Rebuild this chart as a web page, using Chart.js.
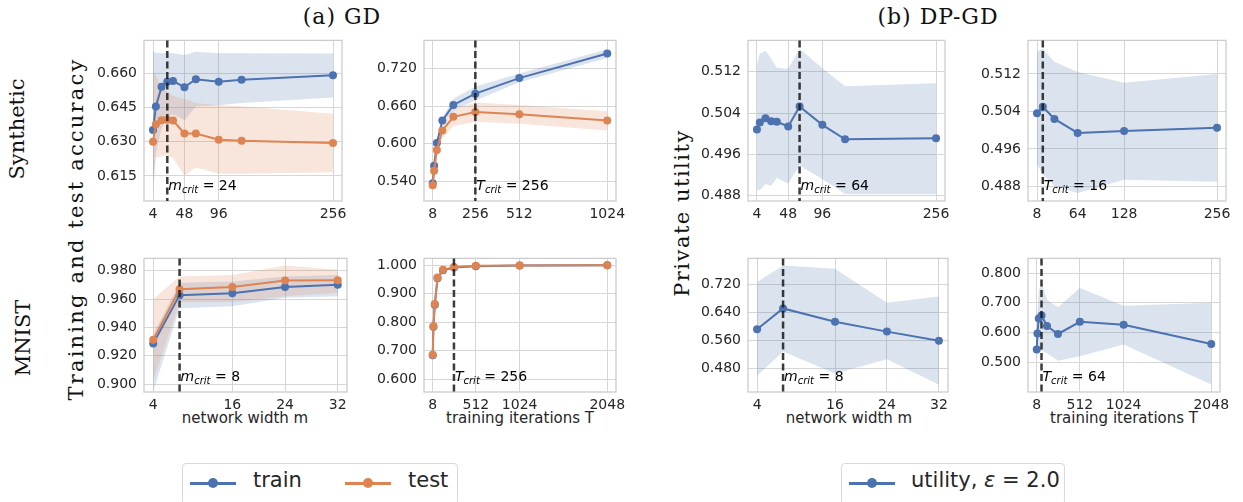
<!DOCTYPE html>
<html>
<head>
<meta charset="utf-8">
<script src="https://cdn.jsdelivr.net/npm/chart.js@4.4.1/dist/chart.umd.min.js"></script>
<style>
  html, body { margin: 0; padding: 0; background: #fff; }
  #fig { position: relative; width: 1243px; height: 502px; overflow: hidden; }
  #fig canvas { position: absolute; }
  .serif { position: absolute; font-family: "DejaVu Serif", serif; font-size: 21px; color: #111; white-space: nowrap; }
  .lbl { position: absolute; font-family: "DejaVu Sans", sans-serif; font-size: 15px; color: #262626; white-space: nowrap; transform: translate(-50%, -50%); }
  .rot { transform: translate(-50%, -50%) rotate(-90deg); }
  .ctr { transform: translate(-50%, -50%); }
  .legend { position: absolute; border: 1px solid #d9d9d9; border-radius: 4px; height: 40px; background: #fff; }
  .legend .ln { position: absolute; top: 18px; height: 2.5px; width: 46px; }
  .legend .dot { position: absolute; top: 14px; width: 10px; height: 10px; border-radius: 50%; }
  .legend .txt { position: absolute; top: 4px; font-family: "DejaVu Sans", sans-serif; font-size: 21px; color: #262626; white-space: nowrap; }
</style>
</head>
<body>
<div id="fig">
  <div class="serif ctr" style="left:342px; top:16px; font-size:22px; letter-spacing:1px;">(a) GD</div>
  <div class="serif ctr" style="left:938px; top:16px; font-size:22px; letter-spacing:1px;">(b) DP-GD</div>
  <div class="serif rot" style="left:17px; top:129px;">Synthetic</div>
  <div class="serif rot" style="left:23px; top:338px;">MNIST</div>
  <div class="serif rot" style="left:76px; top:229px; letter-spacing:2.2px;">Training and test accuracy</div>
  <div class="serif rot" style="left:682px; top:213px; letter-spacing:1.5px;">Private utility</div>
  <div class="lbl" style="left:245px; top:418px;">network width m</div>
  <div class="lbl" style="left:520px; top:418px;">training iterations T</div>
  <div class="lbl" style="left:849px; top:418px;">network width m</div>
  <div class="lbl" style="left:1124px; top:418px;">training iterations T</div>

  <div class="legend" style="left:182px; top:463px; width:274px;">
    <div class="ln" style="left:7px; background:#4C72B0;"></div>
    <div class="dot" style="left:25px; background:#4C72B0;"></div>
    <div class="txt" style="left:70px;">train</div>
    <div class="ln" style="left:162px; background:#DD8452;"></div>
    <div class="dot" style="left:180px; background:#DD8452;"></div>
    <div class="txt" style="left:225px;">test</div>
  </div>
  <div class="legend" style="left:841px; top:463px; width:222px;">
    <div class="ln" style="left:7px; background:#4C72B0;"></div>
    <div class="dot" style="left:25px; background:#4C72B0;"></div>
    <div class="txt" style="left:69px;">utility, <i>ε</i> = 2.0</div>
  </div>
</div>
<script>
// ---- data ----
const widthSyn = [4, 8, 16, 24, 32, 48, 64, 96, 128, 256];
const widthMnist = [4, 8, 16, 24, 32];
const itersSyn = [8, 16, 32, 64, 128, 256, 512, 1024];
const itersMnist = [8, 16, 32, 64, 128, 256, 512, 1024, 2048];
const itersSynDp = [8, 16, 32, 64, 128, 256];

// (a) GD, synthetic, width
const gdSynWTrain   = [0.6351, 0.6454, 0.6541, 0.6563, 0.6566, 0.6539, 0.6574, 0.6563, 0.6572, 0.6591];
const gdSynWTrainHi = [0.6694, 0.6690, 0.6688, 0.6690, 0.6688, 0.6680, 0.6694, 0.6688, 0.6688, 0.6687];
const gdSynWTrainLo = [0.6120, 0.6250, 0.6360, 0.6410, 0.6420, 0.6394, 0.6455, 0.6460, 0.6470, 0.6494];
const gdSynWTest    = [0.6300, 0.6376, 0.6394, 0.6396, 0.6393, 0.6336, 0.6336, 0.6309, 0.6304, 0.6294];
const gdSynWTestHi  = [0.6610, 0.6590, 0.6540, 0.6520, 0.6500, 0.6487, 0.6470, 0.6460, 0.6455, 0.6423];
const gdSynWTestLo  = [0.6058, 0.6230, 0.6237, 0.6240, 0.6230, 0.6151, 0.6187, 0.6159, 0.6160, 0.6166];

// (a) GD, synthetic, iterations
const gdSynTTrain   = [0.5369, 0.5648, 0.6010, 0.6370, 0.6620, 0.6800, 0.7048, 0.7440];
const gdSynTTrainHi = [0.5400, 0.5680, 0.6050, 0.6420, 0.6720, 0.6910, 0.7120, 0.7510];
const gdSynTTrainLo = [0.5340, 0.5610, 0.5970, 0.6320, 0.6530, 0.6690, 0.6980, 0.7370];
const gdSynTTest    = [0.5338, 0.5570, 0.5900, 0.6212, 0.6430, 0.6506, 0.6470, 0.6370];
const gdSynTTestHi  = [0.5370, 0.5620, 0.5960, 0.6300, 0.6550, 0.6660, 0.6620, 0.6520];
const gdSynTTestLo  = [0.5310, 0.5520, 0.5830, 0.6090, 0.6280, 0.6350, 0.6320, 0.6210];

// (a) GD, MNIST, width
const gdMnWTrain   = [0.9287, 0.9628, 0.9641, 0.9685, 0.9701];
const gdMnWTrainHi = [0.9350, 0.9715, 0.9725, 0.9760, 0.9770];
const gdMnWTrainLo = [0.8950, 0.9536, 0.9550, 0.9610, 0.9620];
const gdMnWTest    = [0.9313, 0.9669, 0.9685, 0.9731, 0.9733];
const gdMnWTestHi  = [0.9600, 0.9760, 0.9770, 0.9837, 0.9807];
const gdMnWTestLo  = [0.9025, 0.9577, 0.9580, 0.9620, 0.9645];

// (a) GD, MNIST, iterations
const gdMnTTrain   = [0.684, 0.784, 0.861, 0.954, 0.982, 0.992, 0.9966, 0.999, 1.000];
const gdMnTTrainHi = [0.692, 0.792, 0.868, 0.960, 0.986, 0.994, 0.998, 1.000, 1.000];
const gdMnTTrainLo = [0.676, 0.776, 0.854, 0.948, 0.978, 0.990, 0.995, 0.998, 0.999];
const gdMnTTest    = [0.686, 0.786, 0.864, 0.957, 0.984, 0.994, 0.998, 0.999, 1.000];
const gdMnTTestHi  = [0.694, 0.794, 0.871, 0.962, 0.988, 0.996, 0.999, 1.000, 1.001];
const gdMnTTestLo  = [0.678, 0.778, 0.857, 0.952, 0.980, 0.992, 0.997, 0.998, 0.999];

// (b) DP-GD utility
const dpSynW   = [0.50082, 0.50215, 0.50300, 0.50240, 0.50230, 0.50139, 0.50527, 0.50171, 0.49891, 0.49910];
const dpSynWHi = [0.5135, 0.5155, 0.5161, 0.5146, 0.5128, 0.5126, 0.5165, 0.5127, 0.5092, 0.5098];
const dpSynWLo = [0.4891, 0.4890, 0.4902, 0.4899, 0.4914, 0.4903, 0.4938, 0.4912, 0.4883, 0.4883];
const dpSynT   = [0.5036, 0.5050, 0.5024, 0.4994, 0.4998, 0.5005];
const dpSynTHi = [0.5168, 0.5174, 0.5146, 0.5124, 0.5101, 0.5120];
const dpSynTLo = [0.4927, 0.4906, 0.4880, 0.4866, 0.4894, 0.4890];
const dpMnW    = [0.5916, 0.6510, 0.6130, 0.5850, 0.5590];
const dpMnWHi  = [0.7265, 0.7730, 0.7640, 0.6670, 0.6850];
const dpMnWLo  = [0.4590, 0.5280, 0.4660, 0.5060, 0.4340];
const dpMnT    = [0.543, 0.597, 0.647, 0.657, 0.622, 0.595, 0.636, 0.626, 0.561];
const dpMnTHi  = [0.585, 0.660, 0.740, 0.770, 0.710, 0.685, 0.750, 0.690, 0.700];
const dpMnTLo  = [0.500, 0.530, 0.550, 0.540, 0.530, 0.505, 0.520, 0.560, 0.425];

// tick labels
const xTicksWidthSyn = [4, 48, 96, 256];
const xTicksWidthMnist = [4, 16, 24, 32];
const xTicksItersSyn = [8, 256, 512, 1024];
const xTicksItersMnist = [8, 512, 1024, 2048];
const xTicksItersSynDp = [8, 64, 128, 256];
const yTicksGdSynW = [0.615, 0.630, 0.645, 0.660];
const yTicksGdSynT = [0.540, 0.600, 0.660, 0.720];
const yTicksGdMnW = [0.900, 0.920, 0.940, 0.960, 0.980];
const yTicksGdMnT = [0.600, 0.700, 0.800, 0.900, 1.000];
const yTicksDpSyn = [0.488, 0.496, 0.504, 0.512];
const yTicksDpMnW = [0.480, 0.560, 0.640, 0.720];
const yTicksDpMnT = [0.500, 0.600, 0.700, 0.800];

// ---- drawing ----
const BLUE = '#4C72B0', ORANGE = '#DD8452';
const BLUE_BAND = 'rgba(76,114,176,0.2)', ORANGE_BAND = 'rgba(221,132,82,0.2)';
const TICK = '#262626', GRID = '#d6d6d6';
const YW = 70, XH = 30, PT = 12, PR = 20;

const pts = (xs, ys) => xs.map((x, i) => ({ x, y: ys[i] }));

function series(xs, mean, hi, lo, color, band, order) {
  return [
    { data: pts(xs, mean), borderColor: color, backgroundColor: color, borderWidth: 2,
      pointRadius: 4, pointBorderWidth: 0, fill: false, order },
    { data: pts(xs, hi), fill: '+1', backgroundColor: band, borderWidth: 0, pointRadius: 0, order: 5 },
    { data: pts(xs, lo), fill: false, borderWidth: 0, pointRadius: 0, order: 5 }
  ];
}

const critPlugin = (crit, sym) => ({
  id: 'crit',
  afterDatasetsDraw(chart) {
    const { ctx, chartArea: a, scales } = chart;
    ctx.save();
    // frame
    ctx.strokeStyle = '#cccccc';
    ctx.lineWidth = 1.3;
    ctx.strokeRect(a.left, a.top, a.right - a.left, a.bottom - a.top);
    // dashed line
    const x = scales.x.getPixelForValue(crit);
    ctx.strokeStyle = 'rgba(25,25,25,0.85)';
    ctx.lineWidth = 2.5;
    ctx.setLineDash([7, 3.5]);
    ctx.beginPath();
    ctx.moveTo(x, a.top);
    ctx.lineTo(x, a.bottom);
    ctx.stroke();
    ctx.setLineDash([]);
    // annotation
    let tx = x + 1;
    const ty = a.bottom - 11;
    ctx.fillStyle = '#000';
    ctx.textBaseline = 'alphabetic';
    ctx.textAlign = 'left';
    ctx.font = 'italic 14px "DejaVu Sans"';
    ctx.fillText(sym, tx, ty);
    tx += ctx.measureText(sym).width;
    ctx.font = 'italic 10px "DejaVu Sans"';
    ctx.fillText('crit', tx, ty + 3);
    tx += ctx.measureText('crit').width;
    ctx.font = '14px "DejaVu Sans"';
    ctx.fillText(' = ' + crit, tx, ty);
    ctx.restore();
  }
});

function panel(box, cfg) {
  const c = document.createElement('canvas');
  c.width = box.w + YW + PR;
  c.height = box.h + PT + XH;
  c.style.left = (box.l - YW) + 'px';
  c.style.top = (box.t - PT) + 'px';
  document.getElementById('fig').appendChild(c);
  const tickFont = { family: 'DejaVu Sans', size: 14 };
  new Chart(c.getContext('2d'), {
    type: 'line',
    data: { datasets: cfg.datasets },
    options: {
      responsive: false,
      animation: false,
      devicePixelRatio: 1,
      layout: { padding: { top: PT, right: PR, left: 0, bottom: 0 } },
      plugins: { legend: { display: false }, tooltip: { enabled: false } },
      scales: {
        x: {
          type: 'linear', min: cfg.xmin, max: cfg.xmax,
          afterFit: s => { s.height = XH; },
          afterBuildTicks: s => { s.ticks = cfg.xticks.map(v => ({ value: v })); },
          grid: { color: GRID, drawTicks: false },
          border: { display: false },
          ticks: { padding: 5, color: TICK, font: tickFont, maxRotation: 0, autoSkip: false, callback: v => String(v) }
        },
        y: {
          type: 'linear', min: cfg.ymin, max: cfg.ymax,
          afterFit: s => { s.width = YW; },
          afterBuildTicks: s => { s.ticks = cfg.yticks.map(v => ({ value: v })); },
          grid: { color: GRID, drawTicks: false },
          border: { display: false },
          ticks: { padding: 7, color: TICK, font: tickFont, autoSkip: false, callback: v => v.toFixed(3) }
        }
      }
    },
    plugins: [critPlugin(cfg.crit, cfg.sym)]
  });
}

panel({ l: 144, t: 37, w: 198, h: 164 }, {
  xmin: -8.6, xmax: 268.6, ymin: 0.6040, ymax: 0.6744,
  xticks: xTicksWidthSyn, yticks: yTicksGdSynW, crit: 24, sym: 'm',
  datasets: [
    ...series(widthSyn, gdSynWTest, gdSynWTestHi, gdSynWTestLo, ORANGE, ORANGE_BAND, 0),
    ...series(widthSyn, gdSynWTrain, gdSynWTrainHi, gdSynWTrainLo, BLUE, BLUE_BAND, 1)
  ]
});
panel({ l: 424, t: 37, w: 192, h: 164 }, {
  xmin: -42.8, xmax: 1074.8, ymin: 0.5086, ymax: 0.765,
  xticks: xTicksItersSyn, yticks: yTicksGdSynT, crit: 256, sym: 'T',
  datasets: [
    ...series(itersSyn, gdSynTTest, gdSynTTestHi, gdSynTTestLo, ORANGE, ORANGE_BAND, 0),
    ...series(itersSyn, gdSynTTrain, gdSynTTrainHi, gdSynTTrainLo, BLUE, BLUE_BAND, 1)
  ]
});
panel({ l: 144, t: 255, w: 203, h: 137 }, {
  xmin: 2.6, xmax: 33.4, ymin: 0.8945, ymax: 0.9887,
  xticks: xTicksWidthMnist, yticks: yTicksGdMnW, crit: 8, sym: 'm',
  datasets: [
    ...series(widthMnist, gdMnWTest, gdMnWTestHi, gdMnWTestLo, ORANGE, ORANGE_BAND, 0),
    ...series(widthMnist, gdMnWTrain, gdMnWTrainHi, gdMnWTrainLo, BLUE, BLUE_BAND, 1)
  ]
});
panel({ l: 424, t: 255, w: 192, h: 137 }, {
  xmin: -94, xmax: 2150, ymin: 0.5554, ymax: 1.024,
  xticks: xTicksItersMnist, yticks: yTicksGdMnT, crit: 256, sym: 'T',
  datasets: [
    ...series(itersMnist, gdMnTTest, gdMnTTestHi, gdMnTTestLo, ORANGE, ORANGE_BAND, 0),
    ...series(itersMnist, gdMnTTrain, gdMnTTrainHi, gdMnTTrainLo, BLUE, BLUE_BAND, 1)
  ]
});
panel({ l: 748, t: 37, w: 197, h: 164 }, {
  xmin: -8.6, xmax: 268.6, ymin: 0.48692, ymax: 0.5181,
  xticks: xTicksWidthSyn, yticks: yTicksDpSyn, crit: 64, sym: 'm',
  datasets: series(widthSyn, dpSynW, dpSynWHi, dpSynWLo, BLUE, BLUE_BAND, 0)
});
panel({ l: 1028, t: 37, w: 198, h: 164 }, {
  xmin: -4.4, xmax: 268.4, ymin: 0.48487, ymax: 0.51917,
  xticks: xTicksItersSynDp, yticks: yTicksDpSyn, crit: 16, sym: 'T',
  datasets: series(itersSynDp, dpSynT, dpSynTHi, dpSynTLo, BLUE, BLUE_BAND, 0)
});
panel({ l: 748, t: 255, w: 200, h: 137 }, {
  xmin: 2.6, xmax: 33.4, ymin: 0.413, ymax: 0.7935,
  xticks: xTicksWidthMnist, yticks: yTicksDpMnW, crit: 8, sym: 'm',
  datasets: series(widthMnist, dpMnW, dpMnWHi, dpMnWLo, BLUE, BLUE_BAND, 0)
});
panel({ l: 1028, t: 255, w: 192, h: 137 }, {
  xmin: -94, xmax: 2150, ymin: 0.3996, ymax: 0.8496,
  xticks: xTicksItersMnist, yticks: yTicksDpMnT, crit: 64, sym: 'T',
  datasets: series(itersMnist, dpMnT, dpMnTHi, dpMnTLo, BLUE, BLUE_BAND, 0)
});
</script>
</body>
</html>
